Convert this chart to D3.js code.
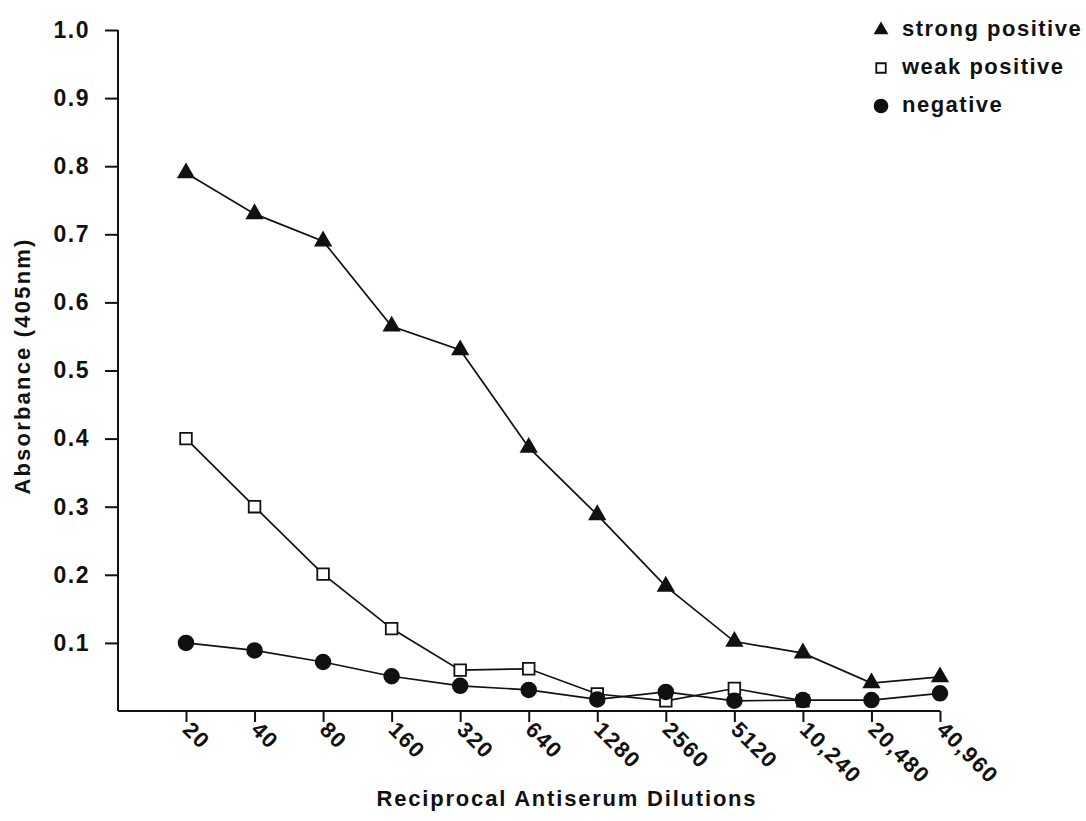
<!DOCTYPE html>
<html>
<head>
<meta charset="utf-8">
<script src="https://cdn.jsdelivr.net/npm/d3@7"></script>
<style>
  body { margin: 0; background: #fff; }
  text { font-family: "Liberation Sans", Arial, sans-serif; font-weight: bold; fill: #111; }
</style>
</head>
<body>
<script>
// dilution categories along x
var dilutions = ["20", "40", "80", "160", "320", "640", "1280", "2560", "5120", "10,240", "20,480", "40,960"]
var y_ticks = [0.1, 0.2, 0.3, 0.4, 0.5, 0.6, 0.7, 0.8, 0.9, 1.0]

// absorbance readings (405nm)
var strong_positive = [0.79, 0.73, 0.69, 0.565, 0.53, 0.387, 0.288, 0.183, 0.102, 0.085, 0.041, 0.05]
var weak_positive   = [0.40, 0.30, 0.201, 0.121, 0.06, 0.062, 0.025, 0.015, 0.033, 0.015]
var negative        = [0.10, 0.089, 0.072, 0.051, 0.037, 0.031, 0.017, 0.028, 0.015, 0.016, 0.016, 0.026]

var series_names = ["strong positive", "weak positive", "negative"]

var width = 1086, height = 821

var svg = d3.select("body").append("svg")
    .attr("width", width)
    .attr("height", height)

var x = d3.scalePoint()
    .domain(dilutions)
    .range([186, 940])

var y = d3.scaleLinear()
    .domain([0, 1.0])
    .range([711, 30])

function boldText(sel, size, spacing) {
  sel.style("font-size", size + "px")
     .style("font-family", "Liberation Sans, Arial, sans-serif")
     .style("font-weight", "bold")
     .style("letter-spacing", spacing + "px")
     .attr("fill", "#111")
}

// y axis
var yAxis = d3.axisLeft(y)
    .tickValues(y_ticks)
    .tickFormat(d3.format(".1f"))
    .tickSize(13)
    .tickPadding(15)

var gy = svg.append("g")
    .attr("transform", "translate(118,0)")
    .call(yAxis)
gy.select(".domain").remove()
gy.append("line")
    .attr("x1", 0).attr("x2", 0)
    .attr("y1", y(1.0)).attr("y2", y(0))
    .attr("stroke", "#111").attr("stroke-width", 2)
gy.selectAll(".tick line").attr("stroke", "#111").attr("stroke-width", 2)
gy.selectAll(".tick text").call(boldText, 23, 1.5)

// x axis
svg.append("line")
    .attr("x1", 118).attr("x2", x(dilutions[dilutions.length - 1]))
    .attr("y1", y(0)).attr("y2", y(0))
    .attr("stroke", "#111").attr("stroke-width", 2)

var gx = svg.append("g")
    .attr("transform", "translate(0," + y(0) + ")")
    .call(d3.axisBottom(x).tickSize(11).tickSizeOuter(0))
gx.select(".domain").remove()
gx.selectAll(".tick line").attr("stroke", "#111").attr("stroke-width", 2)
gx.selectAll(".tick text")
    .call(boldText, 22, 1.5)
    .attr("text-anchor", "start")
    .attr("dy", "0")
    .attr("y", 0)
    .attr("transform", "translate(-5,20) rotate(45)")

// axis titles
svg.append("text")
    .attr("transform", "translate(30,366) rotate(-90)")
    .attr("text-anchor", "middle")
    .call(boldText, 22, 2.2)
    .text("Absorbance (405nm)")

svg.append("text")
    .attr("x", 567)
    .attr("y", 806)
    .attr("text-anchor", "middle")
    .call(boldText, 22, 1.8)
    .text("Reciprocal Antiserum Dilutions")

var line = d3.line()
    .x(function(d, i) { return x(dilutions[i]) })
    .y(function(d) { return y(d) })

var all_series = [strong_positive, weak_positive, negative]

all_series.forEach(function(s) {
  svg.append("path")
      .datum(s)
      .attr("d", line)
      .attr("fill", "none")
      .attr("stroke", "#111")
      .attr("stroke-width", 1.7)
})

var triangle = d3.symbol().type(d3.symbolTriangle).size(100)
var circle = d3.symbol().type(d3.symbolCircle).size(170)
var square = d3.symbol().type(d3.symbolSquare).size(135)

function markers(data, sym, fill) {
  svg.append("g").selectAll("path")
    .data(data)
    .enter()
    .append("path")
      .attr("d", sym)
      .attr("transform", function(d, i) { return "translate(" + x(dilutions[i]) + "," + y(d) + ")" })
      .attr("fill", fill)
      .attr("stroke", "#111")
      .attr("stroke-width", 1.8)
}

markers(weak_positive, square, "#fff")
markers(negative, circle, "#111")
markers(strong_positive, triangle, "#111")

// legend
var legend_syms = [
  d3.symbol().type(d3.symbolTriangle).size(60),
  d3.symbol().type(d3.symbolSquare).size(90),
  d3.symbol().type(d3.symbolCircle).size(130)
]
var legend_fills = ["#111", "#fff", "#111"]
var legend = svg.append("g")
series_names.forEach(function(name, i) {
  var ly = 30 + i * 38
  legend.append("path")
      .attr("d", legend_syms[i])
      .attr("transform", "translate(881," + ly + ")")
      .attr("fill", legend_fills[i])
      .attr("stroke", "#111")
      .attr("stroke-width", 1.8)
  legend.append("text")
      .attr("x", 902)
      .attr("y", ly + 6)
      .call(boldText, 22, 1.5)
      .text(name)
})
</script>
</body>
</html>
